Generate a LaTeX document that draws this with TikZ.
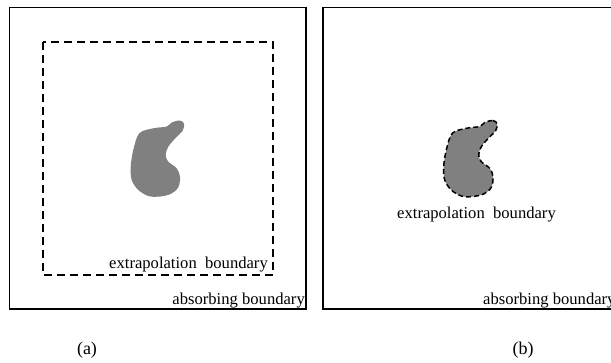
\documentclass[tikz,border=0pt]{standalone}
\usepackage{fontspec}
\setmainfont{Liberation Serif}
\begin{document}
\begin{tikzpicture}[x=1pt,y=-1pt,
  outerbox/.style={draw=black,line width=1.4pt},
  extrabox/.style={draw=black,line width=1.6pt,dash pattern=on 8pt off 5pt},
  blobfill/.style={fill=black!50!white},
  blobdash/.style={draw=black,line width=1.5pt,dash pattern=on 5pt off 3pt},
  lbl/.style={font=\fontsize{16.6}{18}\selectfont,inner sep=0pt},
  captxt/.style={font=\fontsize{18}{20}\selectfont,inner sep=0pt}]
\useasboundingbox (0,0) rectangle (611,362);
\begin{scope}
\clip (0,0) rectangle (611,362);
% panel (a)
\draw[outerbox] (9.5,7.5) rectangle (306,309);
\draw[extrabox] (43,42) rectangle (273,275);
\def\blobpath{plot[smooth cycle,tension=0.55] coordinates {
 (171.7,122.5) (180,120.5) (184.2,124) (182.5,131) (176.5,137) (168.3,146.7) (165.7,155)
 (168.3,161.7) (176.7,168.3) (180,176.7) (178.3,187.3) (170.7,194) (158.3,196.7)
 (148.3,196) (138.3,190) (131.7,180) (130.7,166.7) (133.3,150) (139.3,133.3)
 (153.3,128.3) (166.7,126.5)}}
\path[blobfill] \blobpath;
\node[lbl,anchor=base east] (ea) at (268,268) {extrapolation\ \ boundary};
\node[lbl,anchor=base east] (aa) at (305,304.5) {absorbing boundary};
\node[captxt,anchor=base] (capa) at (87,354) {(a)};
% panel (b)
\draw[outerbox] (323,7.5) rectangle (620,309);
\begin{scope}[xshift=313pt]
\path[blobfill] \blobpath;
\draw[blobdash] \blobpath;
\end{scope}
\node[lbl,anchor=base] (eb) at (476.5,218) {extrapolation\ \ boundary};
\node[lbl,anchor=base west] (ab) at (483,304.5) {absorbing boundary};
\node[captxt,anchor=base] (capb) at (523,354) {(b)};
\end{scope}
\end{tikzpicture}
\end{document}
